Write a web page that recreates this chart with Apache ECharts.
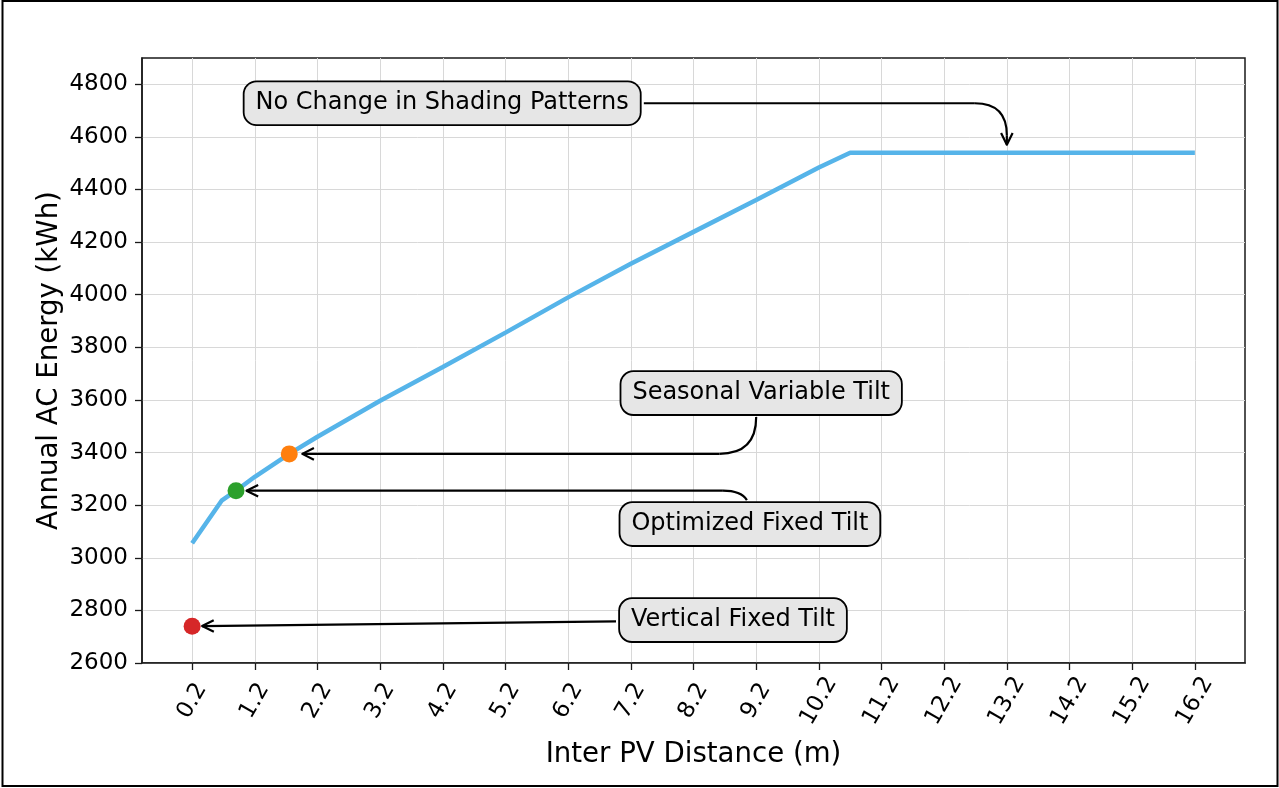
<!DOCTYPE html>
<html>
<head>
<meta charset="utf-8">
<script src="https://cdn.jsdelivr.net/npm/echarts@6/dist/echarts.min.js"></script>
<style>
  html, body { margin: 0; padding: 0; background: #ffffff; }
  #chart { width: 1279px; height: 788px; }
</style>
</head>
<body>
<div id="chart"></div>
<script>
// Annual AC energy versus distance between PV rows
const distance = [0.2, 0.67, 0.9, 1.2, 1.75, 2.2, 3.2, 4.2, 5.2, 6.2, 7.2, 8.2, 9.2, 10.2, 10.7, 16.2];
const energy   = [3055, 3217, 3255, 3308, 3395, 3460, 3597, 3725, 3856, 3990, 4118, 4239, 4360, 4484, 4540, 4540];

// Highlighted design points
const designNames    = ['Vertical Fixed Tilt', 'Optimized Fixed Tilt', 'Seasonal Variable Tilt'];
const designDistance = [0.2, 0.9, 1.75];
const designEnergy   = [2740, 3255, 3395];
const designColors   = ['#d62728', '#2ca02c', '#ff7f0e'];

// Tick values
const xTicks = [0.2, 1.2, 2.2, 3.2, 4.2, 5.2, 6.2, 7.2, 8.2, 9.2, 10.2, 11.2, 12.2, 13.2, 14.2, 15.2, 16.2];
const yTicks = [2600, 2800, 3000, 3200, 3400, 3600, 3800, 4000, 4200, 4400, 4600, 4800];

// Callouts: text anchor and the point each arrow points at (data units)
const noteTexts   = ['No Change in Shading Patterns', 'Seasonal Variable Tilt', 'Optimized Fixed Tilt', 'Vertical Fixed Tilt'];
const noteTextX   = [4.19, 9.28, 9.1, 8.83];
const noteTextY   = [4728, 3626, 3128, 2763];
const noteTargetX = [13.2, designDistance[2], designDistance[1], designDistance[0]];
const noteTargetY = [4540, designEnergy[2], designEnergy[1], designEnergy[0]];
const noteRoutes  = ['right-down', 'down-left', 'up-left', 'straight'];

const FONT = '"DejaVu Sans", "Liberation Sans", sans-serif';
const NOTE_SIZE = 24;
const AXIS_COLOR = '#1a1a1a';

const chart = echarts.init(document.getElementById('chart'), null, { renderer: 'canvas' });

const option = {
  animation: false,
  backgroundColor: '#ffffff',
  grid: {
    left: 142, right: 34, top: 58, bottom: 125,
    show: true, borderColor: AXIS_COLOR, borderWidth: 1.5, backgroundColor: 'transparent'
  },
  xAxis: {
    type: 'value',
    min: -0.6, max: 17.0,
    name: 'Inter PV Distance (m)',
    nameLocation: 'middle',
    nameGap: 78,
    nameTextStyle: { fontFamily: FONT, fontSize: 27.6, color: '#000' },
    axisLine: { show: true, onZero: false, lineStyle: { color: AXIS_COLOR, width: 1.5 } },
    axisTick: { show: true, length: 7, customValues: xTicks, lineStyle: { color: AXIS_COLOR, width: 1.3 } },
    axisLabel: {
      customValues: xTicks,
      rotate: 60, align: 'center', verticalAlign: 'middle', margin: 38,
      fontFamily: FONT, fontSize: 23, color: '#000',
      formatter: v => v.toFixed(1)
    },
    splitLine: { show: true, lineStyle: { color: '#d8d8d8', width: 1 } }
  },
  yAxis: {
    type: 'value',
    min: 2600, max: 4900,
    name: 'Annual AC Energy (kWh)',
    nameLocation: 'middle',
    nameGap: 78,
    nameMoveOverlap: false,
    nameTextStyle: { fontFamily: FONT, fontSize: 27.6, color: '#000' },
    axisLine: { show: true, onZero: false, lineStyle: { color: AXIS_COLOR, width: 1.5 } },
    axisTick: { show: true, length: 7, customValues: yTicks, lineStyle: { color: AXIS_COLOR, width: 1.3 } },
    axisLabel: {
      customValues: yTicks, margin: 14,
      fontFamily: FONT, fontSize: 23, color: '#000',
      formatter: v => String(v)
    },
    splitLine: { show: true, lineStyle: { color: '#d8d8d8', width: 1 } }
  },
  series: [
    {
      name: 'Annual AC Energy',
      type: 'line',
      data: distance.map((d, i) => [d, energy[i]]),
      symbol: 'none',
      lineStyle: { color: '#56b4e9', width: 4.5 },
      z: 2
    },
    {
      name: 'Designs',
      type: 'scatter',
      data: designDistance.map((d, i) => ({
        name: designNames[i],
        value: [d, designEnergy[i]],
        itemStyle: { color: designColors[i], opacity: 1 }
      })),
      symbolSize: 17,
      z: 3
    }
  ]
};

chart.setOption(option);

// Callout boxes and arrows, placed through the grid's coordinate system
const measure = document.createElement('canvas').getContext('2d');
measure.font = NOTE_SIZE + 'px ' + FONT;

const PAD_H = 11, PAD_V = 9, GAP = 3;
const ARROW_STYLE = { fill: null, stroke: '#000', lineWidth: 2.2, lineJoin: 'round' };

function headPoints(tip, dir) {
  const len = 13, ang = 0.46;
  const bx = -dir[0], by = -dir[1];
  const rot = a => [tip[0] + len * (bx * Math.cos(a) - by * Math.sin(a)),
                    tip[1] + len * (bx * Math.sin(a) + by * Math.cos(a))];
  return [rot(ang), tip, rot(-ang)];
}

function polyline(points) {
  return { type: 'polyline', silent: true, z: 40, shape: { points: points }, style: ARROW_STYLE };
}

function curve(p1, cp, p2) {
  return {
    type: 'bezierCurve', silent: true, z: 40,
    shape: { x1: p1[0], y1: p1[1], cpx1: cp[0], cpy1: cp[1], x2: p2[0], y2: p2[1] },
    style: ARROW_STYLE
  };
}

const graphics = [{
  type: 'rect',
  silent: true,
  z: 50,
  shape: { x: 2.5, y: 1, width: 1275, height: 785 },
  style: { fill: null, stroke: '#000', lineWidth: 2 }
}];

noteTexts.forEach((text, i) => {
  const c = chart.convertToPixel({ gridIndex: 0 }, [noteTextX[i], noteTextY[i]]);
  const t = chart.convertToPixel({ gridIndex: 0 }, [noteTargetX[i], noteTargetY[i]]);
  const hw = measure.measureText(text).width / 2 + PAD_H + 1;
  const hh = NOTE_SIZE / 2 + PAD_V;
  let tip, dir;

  if (noteRoutes[i] === 'right-down') {
    const s = [c[0] + hw + GAP, c[1]];
    const r = 32;
    tip = [t[0], t[1] - 8];
    dir = [0, 1];
    graphics.push(polyline([s, [t[0] - r, s[1]]]));
    graphics.push(curve([t[0] - r, s[1]], [t[0], s[1]], [t[0], s[1] + r]));
    graphics.push(polyline([[t[0], s[1] + r], tip]));
  } else if (noteRoutes[i] === 'down-left') {
    const s = [c[0] - 5, c[1] + hh + GAP];
    const r = t[1] - s[1];
    tip = [t[0] + 13, t[1]];
    dir = [-1, 0];
    graphics.push(curve(s, [s[0], t[1]], [s[0] - r, t[1]]));
    graphics.push(polyline([[s[0] - r, t[1]], tip]));
  } else if (noteRoutes[i] === 'up-left') {
    const s = [c[0] - 3, c[1] - hh - GAP];
    tip = [t[0] + 10.5, t[1]];
    dir = [-1, 0];
    graphics.push(curve(s, [s[0] - 6, t[1]], [s[0] - 24, t[1]]));
    graphics.push(polyline([[s[0] - 24, t[1]], tip]));
  } else {
    const sx = c[0] - hw - GAP;
    const s = [sx, c[1] + (t[1] - c[1]) * (c[0] - sx) / (c[0] - t[0])];
    const dx = t[0] - s[0], dy = t[1] - s[1];
    const d = Math.hypot(dx, dy);
    dir = [dx / d, dy / d];
    tip = [t[0] - dir[0] * 10, t[1] - dir[1] * 10];
    graphics.push(polyline([s, tip]));
  }
  graphics.push(polyline(headPoints(tip, dir)));

  graphics.push({
    type: 'text',
    silent: true,
    z: 45,
    x: c[0], y: c[1],
    style: {
      text: text,
      font: NOTE_SIZE + 'px ' + FONT,
      fill: '#000',
      align: 'center', verticalAlign: 'middle',
      textAlign: 'center', textVerticalAlign: 'middle',
      backgroundColor: '#e6e6e6',
      borderColor: '#000', borderWidth: 1.8, borderRadius: 12,
      padding: [PAD_V, PAD_H]
    }
  });
});

chart.setOption({ graphic: graphics });
</script>
</body>
</html>
